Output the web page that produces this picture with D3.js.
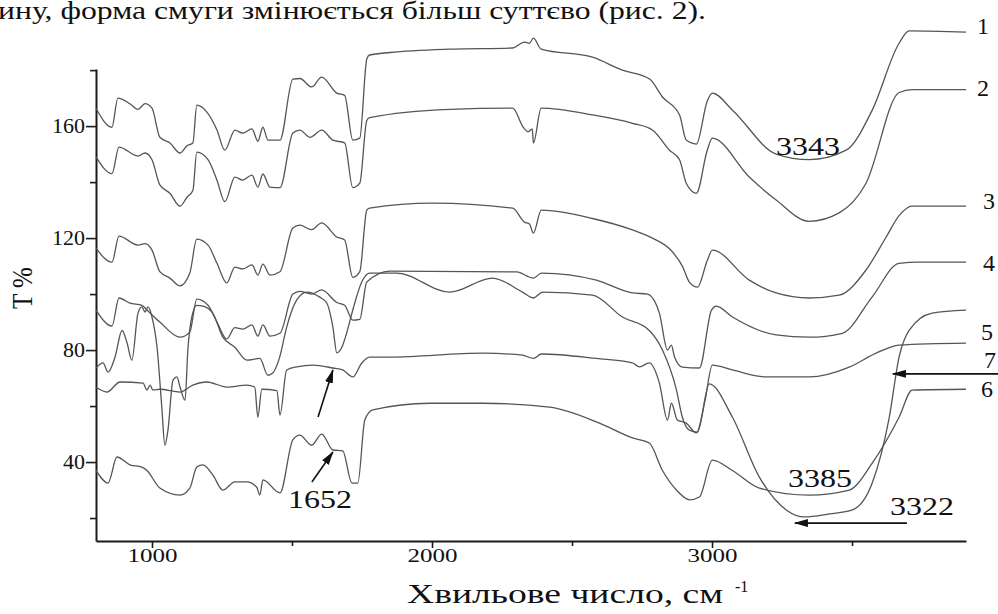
<!DOCTYPE html>
<html lang="uk">
<head>
<meta charset="UTF-8">
<title>ІЧ-спектри</title>
<script src="https://d3js.org/d3.v7.min.js"></script>
<style>
  body { margin: 0; background: #fff; }
  svg { display: block; font-family: "Liberation Serif", "Times New Roman", serif; }
</style>
</head>
<body>
<script>
// Дані: хвильове число (см-1) і T% для кожного спектра
const wn1 = [800, 857, 878, 921, 950, 975, 1000, 1028, 1064, 1100, 1125, 1146, 1160, 1196, 1232, 1260, 1296, 1324, 1357, 1378, 1396, 1414, 1457, 1503, 1528, 1570, 1606, 1660, 1688, 1717, 1742, 1767, 1777, 1850, 2063, 2288, 2330, 2348, 2362, 2390, 2573, 2680, 2777, 2823, 2884, 2908, 2944, 2983, 3001, 3073, 3229, 3347, 3479, 3572, 3668, 3704, 3907];
const t1  = [166.4, 159.6, 170, 168, 166, 168, 166.4, 156, 154, 150.4, 153, 154, 167.5, 165, 158.6, 151.4, 158.6, 157.5, 159, 154.6, 159.6, 155, 155, 176.8, 177, 174, 177.5, 171.8, 171, 155, 155.7, 184, 185.4, 186.3, 187.5, 187.9, 190, 189.6, 191.4, 187.5, 184.6, 180, 176.8, 170.4, 164, 155, 153.6, 169, 171.8, 165.7, 150, 148, 151.4, 165.7, 189.6, 194, 193.6];

const wn2 = [800, 857, 882, 950, 975, 1000, 1028, 1064, 1100, 1125, 1146, 1160, 1200, 1232, 1260, 1296, 1324, 1357, 1378, 1396, 1421, 1457, 1503, 1528, 1564, 1606, 1646, 1688, 1717, 1742, 1767, 1777, 2063, 2288, 2326, 2344, 2358, 2362, 2390, 2573, 2716, 2787, 2848, 2884, 2908, 2944, 2983, 3001, 3133, 3229, 3347, 3454, 3550, 3668, 3715, 3907];
const t2  = [149, 143, 152.5, 149.3, 150.4, 148, 139, 136, 131.4, 134.6, 137, 150.7, 148, 140.7, 133, 141.8, 140.7, 142.5, 138.2, 142.9, 138.2, 138, 157.5, 158.6, 156, 158.6, 155, 154, 138, 139.6, 162, 163, 166, 166.4, 159.6, 158, 159, 154, 166.4, 164, 161, 158.6, 151.4, 148, 139.6, 136, 151.4, 155.7, 141.8, 133.6, 126, 129, 139.6, 172, 173, 173];

const wn3 = [800, 857, 882, 950, 975, 1000, 1028, 1064, 1100, 1135, 1160, 1200, 1232, 1267, 1296, 1324, 1357, 1378, 1396, 1421, 1457, 1503, 1528, 1570, 1606, 1660, 1688, 1717, 1742, 1767, 1777, 2002, 2288, 2330, 2348, 2362, 2390, 2573, 2716, 2787, 2850, 2894, 2919, 2948, 2983, 3001, 3133, 3229, 3347, 3454, 3550, 3622, 3668, 3715, 3907];
const t3  = [116.4, 111.4, 120.7, 117.5, 118, 115.7, 108, 105.7, 102.9, 107.5, 119.6, 117.5, 111, 104, 109.6, 109, 110.4, 106.8, 110.7, 106.8, 108, 123.6, 124.6, 123, 125.4, 120.4, 119.3, 106, 108, 130, 130.7, 132.5, 130.7, 125.7, 125, 121.8, 130, 127, 122.9, 120, 116, 110, 104.3, 102.5, 112, 115.7, 105, 100.4, 98.6, 99.6, 108.6, 120.4, 128, 131.4, 131.4];

const wn4 = [800, 857, 882, 921, 964, 982, 1028, 1100, 1135, 1160, 1200, 1232, 1267, 1296, 1324, 1357, 1378, 1396, 1421, 1457, 1503, 1528, 1570, 1606, 1660, 1688, 1717, 1742, 1767, 1849, 2302, 2362, 2391, 2587, 2716, 2769, 2812, 2841, 2855, 2866, 2894, 2955, 2998, 3015, 3073, 3229, 3347, 3465, 3572, 3668, 3740, 3907];
const t4  = [94.3, 88.6, 98.6, 96.8, 96, 94.3, 90, 84.6, 86.4, 98.2, 96, 90, 84, 88, 87.5, 89, 85, 89, 85, 86, 100, 101, 100, 101.5, 97, 96, 90.7, 91, 104.3, 108.2, 107.9, 105.7, 107.5, 105, 100.4, 100, 93.2, 80, 81.8, 77.5, 73.9, 73.6, 94.3, 95.7, 91.8, 85.4, 84.6, 86, 99, 111, 111.4, 111.4];

const wn5 = [800, 839, 886, 968, 982, 993, 1003, 1028, 1100, 1146, 1196, 1267, 1339, 1367, 1378, 1392, 1446, 1457, 1481, 1517, 1574, 1646, 1681, 1717, 1749, 1777, 1849, 2181, 2323, 2362, 2391, 2587, 2716, 2741, 2776, 2812, 2841, 2855, 2876, 2908, 2944, 2975, 3001, 3073, 3194, 3347, 3490, 3586, 3668, 3907];
const t5  = [66.8, 65, 68.6, 68.2, 65.7, 67.5, 65.7, 66, 65, 67.5, 68.6, 66.8, 67.5, 66.8, 56, 66, 65.5, 56.8, 72.9, 74, 74.6, 73.6, 72.9, 70.4, 75.4, 77.5, 77.5, 78.9, 78.2, 77, 78.6, 77, 75.4, 74, 75.4, 68.2, 55, 61, 55, 53.9, 50.4, 62, 74.6, 72.9, 70.4, 70.4, 73.9, 78.9, 81.8, 82.5];

const wn6 = [800, 843, 875, 921, 964, 982, 1028, 1100, 1135, 1160, 1182, 1217, 1253, 1296, 1339, 1374, 1385, 1396, 1457, 1503, 1528, 1570, 1606, 1646, 1681, 1714, 1735, 1760, 1788, 1992, 2181, 2420, 2598, 2716, 2776, 2823, 2873, 2920, 2955, 3001, 3073, 3169, 3347, 3490, 3572, 3668, 3715, 3907];
const t6  = [37, 32.5, 41.8, 39, 38.2, 37, 30.7, 28.2, 30.7, 38.2, 39, 35.4, 30, 32.9, 32.9, 31, 28.2, 33.6, 29, 47.9, 49.6, 46, 50, 44.3, 44, 32.5, 32.5, 55, 58.6, 61, 61, 59.6, 53.9, 48.6, 46.8, 37, 30, 26.5, 27.5, 40.7, 37, 30.7, 28.2, 30, 39.6, 56, 65.7, 66];

const wn7 = [800, 825, 843, 868, 893, 911, 928, 950, 964, 975, 986, 1000, 1018, 1035, 1046, 1057, 1075, 1089, 1100, 1118, 1128, 1142, 1160, 1182, 1217, 1253, 1296, 1339, 1385, 1414, 1431, 1456, 1481, 1517, 1553, 1599, 1624, 1646, 1660, 1678, 1695, 1717, 1749, 1777, 1874, 2063, 2216, 2323, 2362, 2395, 2573, 2680, 2776, 2823, 2873, 2894, 2919, 2948, 2990, 3073, 3169, 3265, 3330, 3420, 3501, 3572, 3633, 3668, 3704, 3786, 3907];
const t7  = [73.6, 75.4, 72.1, 77.5, 87, 82.5, 76.4, 93.2, 95.4, 93.6, 95.4, 91.8, 81, 59.6, 46, 51.4, 69.3, 70.4, 66.8, 62.1, 80, 91.8, 96, 95.7, 93.2, 84.6, 81, 76.4, 77, 71, 71.8, 77.5, 88.2, 97.9, 100.7, 98.9, 96.8, 88.2, 79, 81, 86, 94.3, 104.3, 107.5, 107.5, 100.7, 105.7, 100.7, 98.6, 100.7, 99.6, 91.8, 87, 80, 65.7, 56, 51.4, 50.7, 67.9, 56, 34.6, 22.9, 20.4, 21.5, 22.9, 32.5, 56, 77.5, 87, 93.2, 94.3];

const curveNames = ["1", "2", "3", "4", "5", "6", "7"];
const xTicksMajor = [1000, 2000, 3000];
const xTicksMinor = [1500, 2500, 3500];
const yTicksMajor = [40, 80, 120, 160];
const yTicksMinor = [20, 60, 100, 140, 180];
const peakLabels = ["3343", "3385", "3322", "1652"];

const series = [[wn1, t1], [wn2, t2], [wn3, t3], [wn4, t4], [wn5, t5], [wn6, t6], [wn7, t7]];

// Розміри
const w = 998, h = 614;
const padLeft = 96, padRight = 966, padTop = 69, padBottom = 541;

const svg = d3.select("body").append("svg")
    .attr("width", w)
    .attr("height", h);

svg.append("rect").attr("width", w).attr("height", h).attr("fill", "#fff");

// Шкали
const x = d3.scaleLinear().domain([800, 3907]).range([padLeft, padRight]);
const y = d3.scaleLinear().domain([11.8, 180.4]).range([padBottom, padTop]);

// Рядок тексту зверху (фрагмент сторінки)
svg.append("text")
    .attr("x", -2)
    .attr("y", 19)
    .attr("font-size", 26)
    .attr("textLength", 708)
    .attr("lengthAdjust", "spacingAndGlyphs")
    .attr("fill", "#111")
    .text("ину, форма смуги змінюється більш суттєво (рис. 2).");

// Осі
const xAxis = d3.axisBottom(x)
    .tickValues(xTicksMajor.concat(xTicksMinor))
    .tickSize(6)
    .tickSizeOuter(0)
    .tickPadding(2)
    .tickFormat(d => xTicksMajor.includes(d) ? d : "");

const gx = svg.append("g")
    .attr("transform", `translate(0,${padBottom})`)
    .call(xAxis);
gx.selectAll(".tick line").attr("y2", d => xTicksMajor.includes(d) ? 7 : 5);
gx.selectAll(".tick text")
    .attr("font-size", 19)
    .attr("font-family", "Liberation Serif, serif")
    .attr("fill", "#111")
    .filter(d => xTicksMajor.includes(d))
    .attr("textLength", 50)
    .attr("lengthAdjust", "spacingAndGlyphs");

const yAxis = d3.axisLeft(y)
    .tickValues(yTicksMajor.concat(yTicksMinor))
    .tickSize(10)
    .tickSizeOuter(0)
    .tickPadding(1)
    .tickFormat(d => yTicksMajor.includes(d) ? d : "");

const gy = svg.append("g")
    .attr("transform", `translate(${padLeft},0)`)
    .call(yAxis);
gy.selectAll(".tick line").attr("x2", d => yTicksMajor.includes(d) ? -10 : -6);
gy.selectAll(".tick text")
    .attr("font-size", 20)
    .attr("font-family", "Liberation Serif, serif")
    .attr("fill", "#111")
    .filter(d => yTicksMajor.includes(d))
    .attr("textLength", d => String(d).length * 11)
    .attr("lengthAdjust", "spacingAndGlyphs");

svg.selectAll(".domain").attr("stroke", "#1a1a1a").attr("stroke-width", 2);
svg.selectAll(".tick line").attr("stroke", "#1a1a1a").attr("stroke-width", 1.6);

// Спектри
const line = d3.line()
    .x(d => x(d[0]))
    .y(d => y(d[1]))
    .curve(d3.curveMonotoneX);

svg.append("g")
    .selectAll("path")
    .data(series)
    .enter()
    .append("path")
    .attr("d", s => line(s[0].map((v, i) => [v, s[1][i]])))
    .attr("fill", "none")
    .attr("stroke", "#555")
    .attr("stroke-width", 1.3)
    .attr("stroke-linejoin", "round");

// Номери кривих праворуч
const labelPos = [[983, 26], [983, 88], [989, 201], [989, 263], [987, 332], [987, 389], [990, 360]];
svg.append("g")
    .selectAll("text")
    .data(curveNames)
    .enter()
    .append("text")
    .attr("x", (d, i) => labelPos[i][0])
    .attr("y", (d, i) => labelPos[i][1])
    .attr("dy", "0.35em")
    .attr("text-anchor", "middle")
    .attr("font-size", 24)
    .attr("fill", "#111")
    .text(d => d);

// Стрілки
const defs = svg.append("defs");
defs.append("marker")
    .attr("id", "head")
    .attr("viewBox", "0 0 14 8")
    .attr("refX", 13)
    .attr("refY", 4)
    .attr("markerWidth", 14)
    .attr("markerHeight", 8)
    .attr("markerUnits", "userSpaceOnUse")
    .attr("orient", "auto")
    .append("path")
    .attr("d", "M0,0 L14,4 L0,8 Z")
    .attr("fill", "#111");

const arrows = [
    [[4025, 71.5], [3646, 71.5]],
    [[3696, 18.2], [3296, 18.2]],
    [[1571, 32.9], [1646, 43.6]],
    [[1593, 56.1], [1646, 72.9]]
];
svg.append("g")
    .selectAll("line")
    .data(arrows)
    .enter()
    .append("line")
    .attr("x1", d => x(d[0][0]))
    .attr("y1", d => y(d[0][1]))
    .attr("x2", d => x(d[1][0]))
    .attr("y2", d => y(d[1][1]))
    .attr("stroke", "#111")
    .attr("stroke-width", 1.6)
    .attr("marker-end", "url(#head)");

// Підписи піків
const peakPos = [[3343, 149.7], [3386, 31.1], [3750, 21.1], [1600, 23.6]];
svg.append("g")
    .selectAll("text")
    .data(peakLabels)
    .enter()
    .append("text")
    .attr("x", (d, i) => x(peakPos[i][0]))
    .attr("y", (d, i) => y(peakPos[i][1]))
    .attr("text-anchor", "middle")
    .attr("font-size", 26)
    .attr("textLength", 64)
    .attr("lengthAdjust", "spacingAndGlyphs")
    .attr("fill", "#111")
    .text(d => d);

// Підписи осей
svg.append("text")
    .attr("transform", "translate(32,288) rotate(-90)")
    .attr("text-anchor", "middle")
    .attr("font-size", 30)
    .attr("textLength", 42)
    .attr("lengthAdjust", "spacingAndGlyphs")
    .attr("fill", "#111")
    .text("T %");

const xt = svg.append("text")
    .attr("x", 407)
    .attr("y", 603)
    .attr("font-size", 28)
    .attr("fill", "#111");
xt.append("tspan")
    .attr("textLength", 316)
    .attr("lengthAdjust", "spacingAndGlyphs")
    .text("Хвильове число, см");
xt.append("tspan")
    .attr("x", 735)
    .attr("y", 592)
    .attr("font-size", 16)
    .text("-1");
</script>
</body>
</html>
